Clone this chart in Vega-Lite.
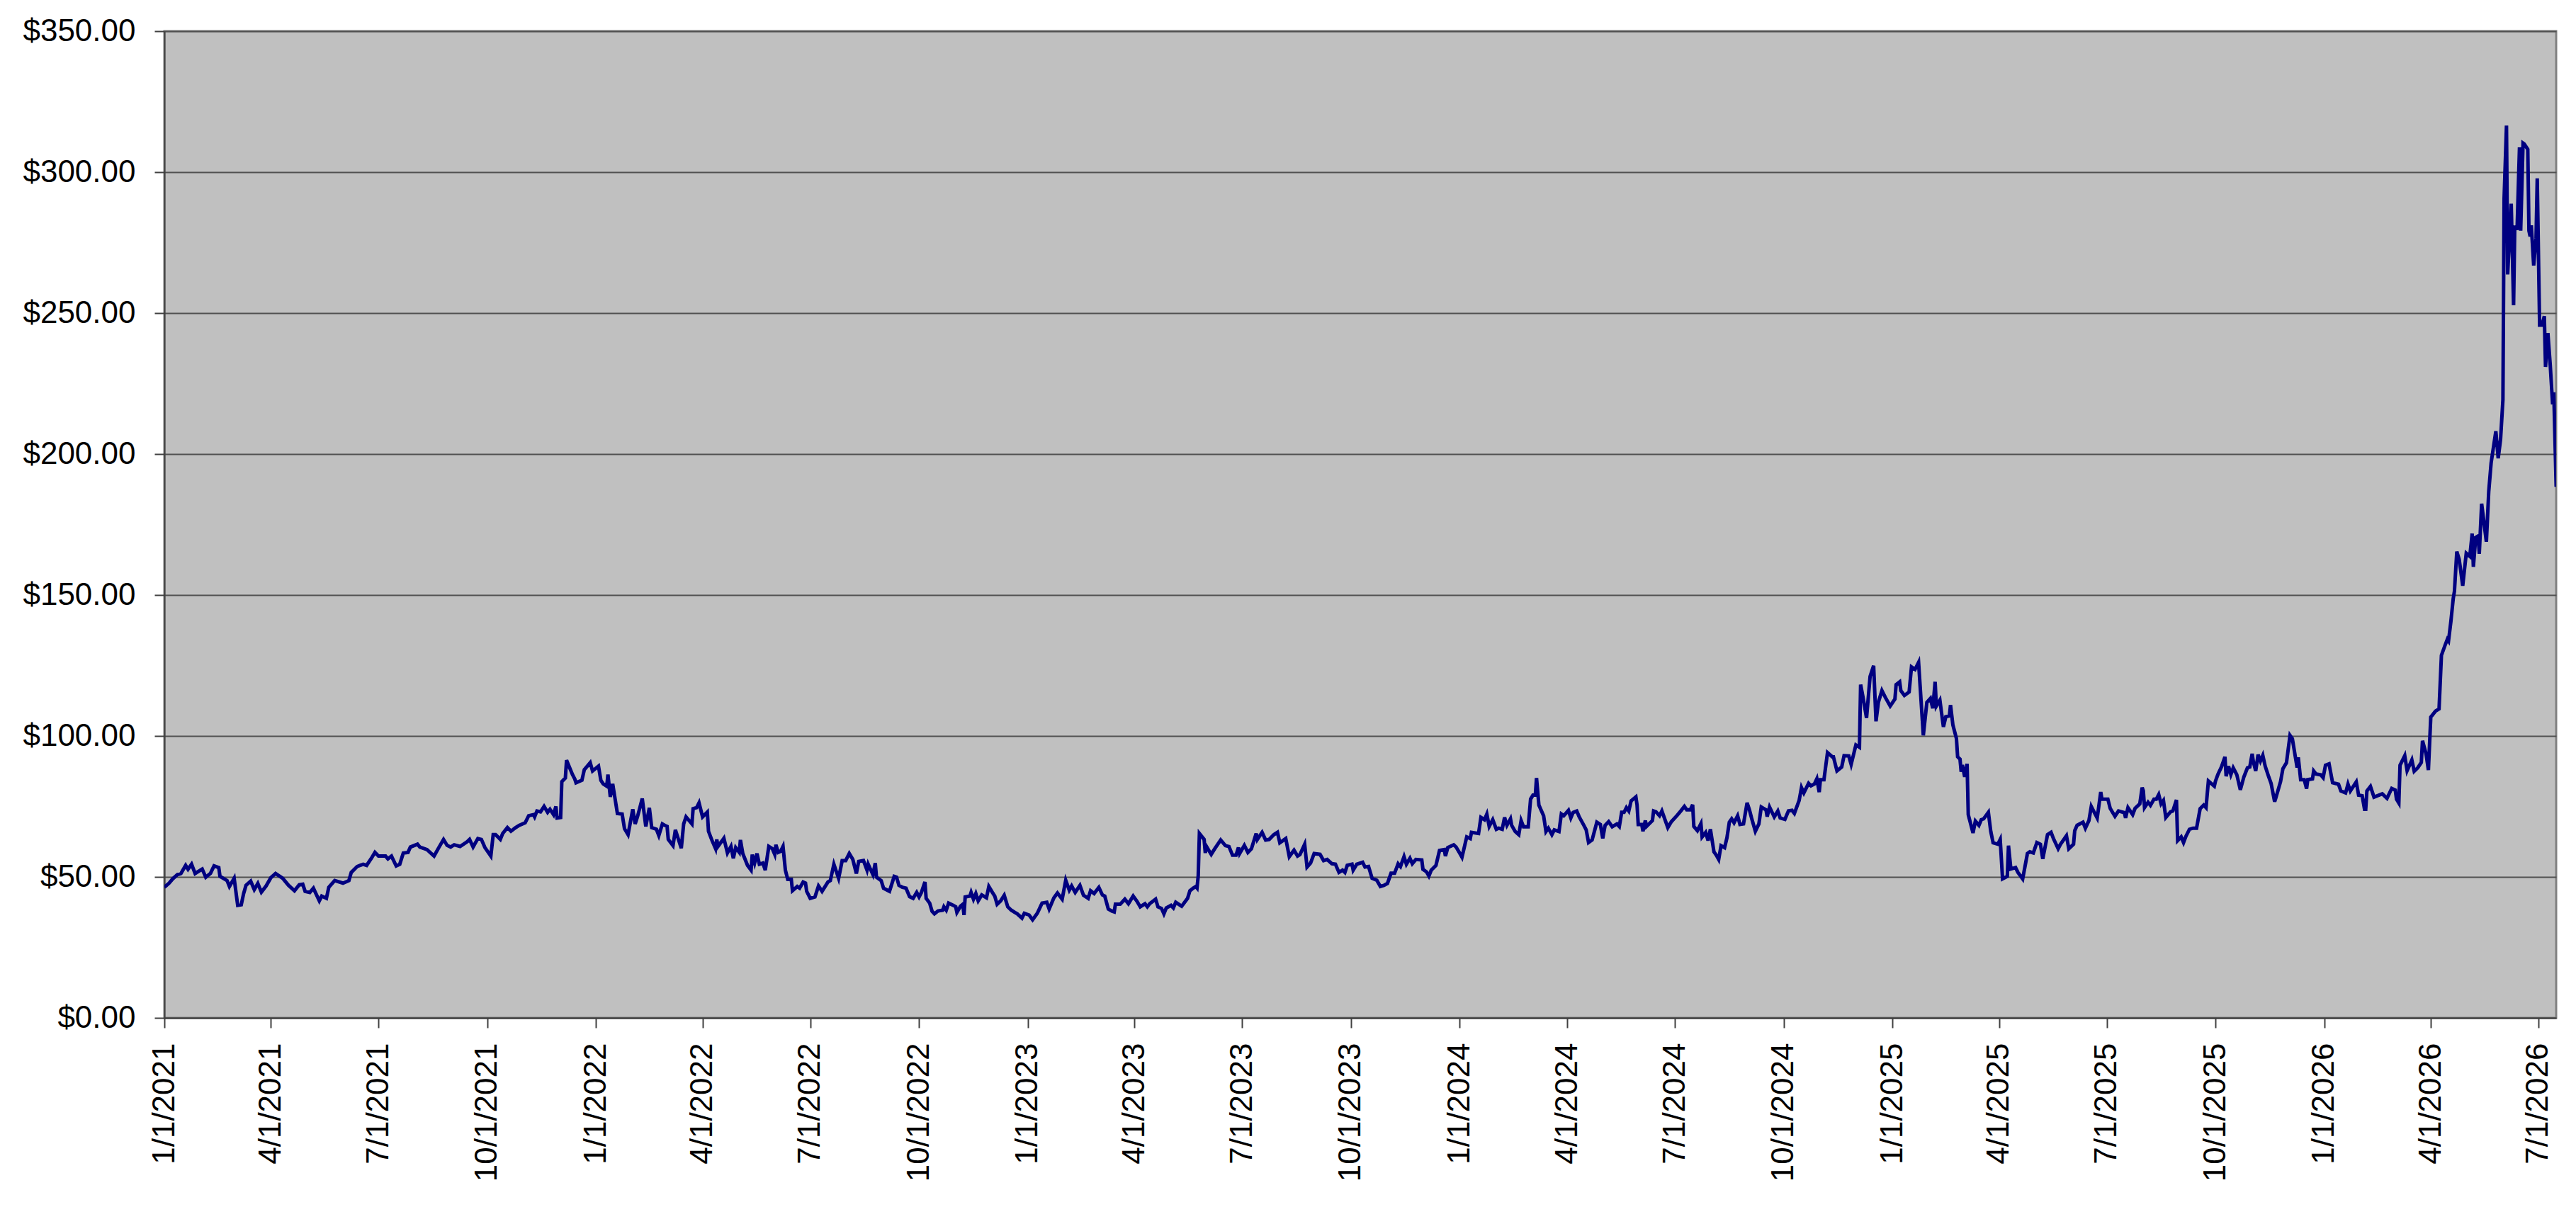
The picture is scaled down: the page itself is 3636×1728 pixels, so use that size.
{
  "$schema": "https://vega.github.io/schema/vega-lite/v6.json",
  "description": "Daily price line, 2021 to mid 2026",
  "width": 3376,
  "height": 1393,
  "autosize": {"type": "none"},
  "padding": {"left": 232, "top": 44, "right": 28, "bottom": 291},
  "background": "#ffffff",
  "data": {
    "values": [
      {"date": "2021-01-01", "price": 46.3}, {"date": "2021-01-05", "price": 47.8}, {"date": "2021-01-08", "price": 49.3}, {"date": "2021-01-12", "price": 50.8}, {"date": "2021-01-15", "price": 51.2}, {"date": "2021-01-19", "price": 54.1}, {"date": "2021-01-21", "price": 52.7}, {"date": "2021-01-24", "price": 54.5}, {"date": "2021-01-27", "price": 51.2}, {"date": "2021-02-02", "price": 52.8}, {"date": "2021-02-05", "price": 49.9}, {"date": "2021-02-09", "price": 51.3}, {"date": "2021-02-12", "price": 53.9}, {"date": "2021-02-16", "price": 53.3}, {"date": "2021-02-17", "price": 50.2}, {"date": "2021-02-23", "price": 48.7}, {"date": "2021-02-25", "price": 46.6}, {"date": "2021-03-01", "price": 49.5}, {"date": "2021-03-04", "price": 39.9}, {"date": "2021-03-07", "price": 40.1}, {"date": "2021-03-09", "price": 44.1}, {"date": "2021-03-11", "price": 47.0}, {"date": "2021-03-15", "price": 48.5}, {"date": "2021-03-18", "price": 45.5}, {"date": "2021-03-21", "price": 47.7}, {"date": "2021-03-24", "price": 44.6}, {"date": "2021-03-28", "price": 46.8}, {"date": "2021-04-01", "price": 49.7}, {"date": "2021-04-05", "price": 51.2}, {"date": "2021-04-11", "price": 49.5}, {"date": "2021-04-16", "price": 47.0}, {"date": "2021-04-21", "price": 45.1}, {"date": "2021-04-25", "price": 47.2}, {"date": "2021-04-28", "price": 47.4}, {"date": "2021-04-30", "price": 44.9}, {"date": "2021-05-04", "price": 44.5}, {"date": "2021-05-07", "price": 46.0}, {"date": "2021-05-12", "price": 41.5}, {"date": "2021-05-14", "price": 43.2}, {"date": "2021-05-18", "price": 42.4}, {"date": "2021-05-20", "price": 46.3}, {"date": "2021-05-25", "price": 48.7}, {"date": "2021-06-01", "price": 47.8}, {"date": "2021-06-06", "price": 48.7}, {"date": "2021-06-08", "price": 51.6}, {"date": "2021-06-13", "price": 53.7}, {"date": "2021-06-18", "price": 54.5}, {"date": "2021-06-21", "price": 54.1}, {"date": "2021-06-25", "price": 56.6}, {"date": "2021-06-28", "price": 58.7}, {"date": "2021-07-01", "price": 57.4}, {"date": "2021-07-07", "price": 57.4}, {"date": "2021-07-09", "price": 56.4}, {"date": "2021-07-12", "price": 57.4}, {"date": "2021-07-16", "price": 53.9}, {"date": "2021-07-19", "price": 54.5}, {"date": "2021-07-22", "price": 58.5}, {"date": "2021-07-26", "price": 58.7}, {"date": "2021-07-28", "price": 60.6}, {"date": "2021-08-03", "price": 61.6}, {"date": "2021-08-05", "price": 60.6}, {"date": "2021-08-11", "price": 59.7}, {"date": "2021-08-17", "price": 57.4}, {"date": "2021-08-21", "price": 60.4}, {"date": "2021-08-25", "price": 63.3}, {"date": "2021-08-28", "price": 61.2}, {"date": "2021-08-31", "price": 60.6}, {"date": "2021-09-03", "price": 61.4}, {"date": "2021-09-08", "price": 60.8}, {"date": "2021-09-14", "price": 62.5}, {"date": "2021-09-16", "price": 63.3}, {"date": "2021-09-19", "price": 60.6}, {"date": "2021-09-23", "price": 63.6}, {"date": "2021-09-26", "price": 63.3}, {"date": "2021-09-29", "price": 60.4}, {"date": "2021-10-04", "price": 57.4}, {"date": "2021-10-06", "price": 65.0}, {"date": "2021-10-08", "price": 65.0}, {"date": "2021-10-12", "price": 63.3}, {"date": "2021-10-14", "price": 65.4}, {"date": "2021-10-18", "price": 67.5}, {"date": "2021-10-21", "price": 66.2}, {"date": "2021-10-25", "price": 67.5}, {"date": "2021-10-28", "price": 68.3}, {"date": "2021-11-02", "price": 69.2}, {"date": "2021-11-05", "price": 71.7}, {"date": "2021-11-09", "price": 72.1}, {"date": "2021-11-10", "price": 71.3}, {"date": "2021-11-12", "price": 73.4}, {"date": "2021-11-15", "price": 73.1}, {"date": "2021-11-18", "price": 75.0}, {"date": "2021-11-21", "price": 72.9}, {"date": "2021-11-23", "price": 74.0}, {"date": "2021-11-26", "price": 72.1}, {"date": "2021-11-28", "price": 75.0}, {"date": "2021-11-29", "price": 70.9}, {"date": "2021-12-02", "price": 71.1}, {"date": "2021-12-03", "price": 83.8}, {"date": "2021-12-06", "price": 85.1}, {"date": "2021-12-07", "price": 91.4}, {"date": "2021-12-12", "price": 86.3}, {"date": "2021-12-14", "price": 84.7}, {"date": "2021-12-15", "price": 83.4}, {"date": "2021-12-20", "price": 84.3}, {"date": "2021-12-22", "price": 88.0}, {"date": "2021-12-27", "price": 90.5}, {"date": "2021-12-29", "price": 87.6},
      {"date": "2022-01-03", "price": 89.3}, {"date": "2022-01-05", "price": 84.3}, {"date": "2022-01-07", "price": 83.0}, {"date": "2022-01-10", "price": 82.2}, {"date": "2022-01-11", "price": 86.3}, {"date": "2022-01-13", "price": 78.4}, {"date": "2022-01-15", "price": 83.0}, {"date": "2022-01-19", "price": 72.5}, {"date": "2022-01-23", "price": 72.3}, {"date": "2022-01-25", "price": 67.1}, {"date": "2022-01-28", "price": 65.0}, {"date": "2022-02-01", "price": 74.0}, {"date": "2022-02-03", "price": 68.8}, {"date": "2022-02-05", "price": 71.4}, {"date": "2022-02-09", "price": 77.8}, {"date": "2022-02-12", "price": 67.9}, {"date": "2022-02-15", "price": 74.5}, {"date": "2022-02-17", "price": 67.5}, {"date": "2022-02-21", "price": 66.9}, {"date": "2022-02-23", "price": 64.7}, {"date": "2022-02-26", "price": 68.8}, {"date": "2022-02-28", "price": 68.3}, {"date": "2022-03-02", "price": 67.9}, {"date": "2022-03-03", "price": 63.3}, {"date": "2022-03-07", "price": 61.1}, {"date": "2022-03-09", "price": 66.7}, {"date": "2022-03-14", "price": 60.2}, {"date": "2022-03-16", "price": 68.8}, {"date": "2022-03-18", "price": 71.3}, {"date": "2022-03-23", "price": 68.8}, {"date": "2022-03-24", "price": 74.2}, {"date": "2022-03-27", "price": 74.6}, {"date": "2022-03-29", "price": 76.3}, {"date": "2022-04-01", "price": 71.3}, {"date": "2022-04-05", "price": 73.0}, {"date": "2022-04-06", "price": 66.2}, {"date": "2022-04-09", "price": 62.9}, {"date": "2022-04-12", "price": 60.0}, {"date": "2022-04-13", "price": 63.3}, {"date": "2022-04-14", "price": 60.8}, {"date": "2022-04-19", "price": 63.7}, {"date": "2022-04-22", "price": 58.5}, {"date": "2022-04-25", "price": 60.8}, {"date": "2022-04-27", "price": 56.6}, {"date": "2022-04-29", "price": 60.4}, {"date": "2022-05-02", "price": 58.7}, {"date": "2022-05-03", "price": 63.1}, {"date": "2022-05-05", "price": 58.3}, {"date": "2022-05-09", "price": 54.1}, {"date": "2022-05-12", "price": 52.4}, {"date": "2022-05-13", "price": 57.9}, {"date": "2022-05-15", "price": 54.9}, {"date": "2022-05-17", "price": 58.3}, {"date": "2022-05-19", "price": 54.5}, {"date": "2022-05-22", "price": 54.9}, {"date": "2022-05-24", "price": 52.4}, {"date": "2022-05-27", "price": 60.8}, {"date": "2022-05-30", "price": 60.0}, {"date": "2022-06-01", "price": 58.0}, {"date": "2022-06-02", "price": 61.4}, {"date": "2022-06-04", "price": 58.7}, {"date": "2022-06-06", "price": 59.1}, {"date": "2022-06-08", "price": 60.8}, {"date": "2022-06-10", "price": 52.4}, {"date": "2022-06-12", "price": 49.1}, {"date": "2022-06-15", "price": 49.1}, {"date": "2022-06-16", "price": 45.1}, {"date": "2022-06-20", "price": 46.6}, {"date": "2022-06-22", "price": 46.0}, {"date": "2022-06-25", "price": 48.2}, {"date": "2022-06-27", "price": 47.8}, {"date": "2022-06-28", "price": 44.9}, {"date": "2022-07-01", "price": 42.4}, {"date": "2022-07-05", "price": 42.9}, {"date": "2022-07-08", "price": 46.8}, {"date": "2022-07-11", "price": 44.9}, {"date": "2022-07-16", "price": 48.2}, {"date": "2022-07-18", "price": 48.7}, {"date": "2022-07-21", "price": 54.5}, {"date": "2022-07-23", "price": 52.0}, {"date": "2022-07-25", "price": 49.5}, {"date": "2022-07-28", "price": 55.8}, {"date": "2022-07-31", "price": 55.8}, {"date": "2022-08-03", "price": 58.3}, {"date": "2022-08-06", "price": 56.2}, {"date": "2022-08-09", "price": 51.2}, {"date": "2022-08-11", "price": 55.5}, {"date": "2022-08-15", "price": 55.8}, {"date": "2022-08-18", "price": 52.4}, {"date": "2022-08-19", "price": 54.5}, {"date": "2022-08-23", "price": 50.8}, {"date": "2022-08-25", "price": 54.9}, {"date": "2022-08-26", "price": 49.9}, {"date": "2022-08-30", "price": 48.7}, {"date": "2022-09-01", "price": 46.0}, {"date": "2022-09-06", "price": 44.9}, {"date": "2022-09-10", "price": 50.2}, {"date": "2022-09-12", "price": 49.9}, {"date": "2022-09-14", "price": 47.0}, {"date": "2022-09-17", "price": 46.3}, {"date": "2022-09-20", "price": 46.0}, {"date": "2022-09-23", "price": 43.0}, {"date": "2022-09-26", "price": 42.4}, {"date": "2022-09-29", "price": 44.5}, {"date": "2022-10-01", "price": 42.9}, {"date": "2022-10-03", "price": 44.5}, {"date": "2022-10-06", "price": 48.2}, {"date": "2022-10-07", "price": 42.4}, {"date": "2022-10-10", "price": 40.7}, {"date": "2022-10-12", "price": 37.8}, {"date": "2022-10-14", "price": 36.9}, {"date": "2022-10-17", "price": 37.9}, {"date": "2022-10-21", "price": 38.2}, {"date": "2022-10-22", "price": 39.4}, {"date": "2022-10-24", "price": 38.2}, {"date": "2022-10-26", "price": 40.7}, {"date": "2022-10-30", "price": 39.9}, {"date": "2022-11-01", "price": 39.4}, {"date": "2022-11-02", "price": 37.4}, {"date": "2022-11-05", "price": 39.6}, {"date": "2022-11-07", "price": 40.3}, {"date": "2022-11-08", "price": 36.5}, {"date": "2022-11-09", "price": 42.9}, {"date": "2022-11-13", "price": 43.2}, {"date": "2022-11-14", "price": 44.5}, {"date": "2022-11-16", "price": 42.1}, {"date": "2022-11-18", "price": 44.1}, {"date": "2022-11-20", "price": 41.5}, {"date": "2022-11-23", "price": 43.6}, {"date": "2022-11-27", "price": 42.6}, {"date": "2022-11-29", "price": 46.6}, {"date": "2022-12-02", "price": 44.5}, {"date": "2022-12-04", "price": 43.2}, {"date": "2022-12-06", "price": 40.3}, {"date": "2022-12-09", "price": 41.5}, {"date": "2022-12-12", "price": 43.5}, {"date": "2022-12-15", "price": 39.4}, {"date": "2022-12-18", "price": 38.2}, {"date": "2022-12-21", "price": 37.4}, {"date": "2022-12-23", "price": 36.9}, {"date": "2022-12-27", "price": 35.4}, {"date": "2022-12-29", "price": 37.1},
      {"date": "2023-01-02", "price": 36.5}, {"date": "2023-01-05", "price": 34.8}, {"date": "2023-01-09", "price": 37.1}, {"date": "2023-01-13", "price": 40.7}, {"date": "2023-01-17", "price": 41.0}, {"date": "2023-01-19", "price": 38.6}, {"date": "2023-01-23", "price": 42.6}, {"date": "2023-01-26", "price": 44.3}, {"date": "2023-01-30", "price": 42.1}, {"date": "2023-02-02", "price": 48.8}, {"date": "2023-02-05", "price": 45.3}, {"date": "2023-02-07", "price": 46.8}, {"date": "2023-02-10", "price": 44.5}, {"date": "2023-02-14", "price": 47.0}, {"date": "2023-02-17", "price": 43.5}, {"date": "2023-02-21", "price": 42.4}, {"date": "2023-02-23", "price": 45.1}, {"date": "2023-02-26", "price": 44.1}, {"date": "2023-03-02", "price": 46.3}, {"date": "2023-03-05", "price": 43.6}, {"date": "2023-03-07", "price": 43.2}, {"date": "2023-03-10", "price": 38.6}, {"date": "2023-03-13", "price": 37.9}, {"date": "2023-03-15", "price": 37.6}, {"date": "2023-03-16", "price": 40.3}, {"date": "2023-03-20", "price": 40.3}, {"date": "2023-03-24", "price": 42.1}, {"date": "2023-03-27", "price": 40.5}, {"date": "2023-03-31", "price": 43.2}, {"date": "2023-04-03", "price": 41.5}, {"date": "2023-04-06", "price": 39.4}, {"date": "2023-04-10", "price": 40.5}, {"date": "2023-04-12", "price": 39.4}, {"date": "2023-04-14", "price": 40.5}, {"date": "2023-04-19", "price": 42.1}, {"date": "2023-04-21", "price": 39.4}, {"date": "2023-04-24", "price": 38.8}, {"date": "2023-04-26", "price": 36.9}, {"date": "2023-04-28", "price": 39.0}, {"date": "2023-05-02", "price": 39.9}, {"date": "2023-05-04", "price": 39.0}, {"date": "2023-05-06", "price": 41.0}, {"date": "2023-05-11", "price": 39.6}, {"date": "2023-05-16", "price": 42.4}, {"date": "2023-05-18", "price": 45.1}, {"date": "2023-05-21", "price": 46.1}, {"date": "2023-05-23", "price": 46.6}, {"date": "2023-05-24", "price": 46.1}, {"date": "2023-05-25", "price": 50.3}, {"date": "2023-05-26", "price": 65.4}, {"date": "2023-05-30", "price": 63.3}, {"date": "2023-05-31", "price": 58.5}, {"date": "2023-06-01", "price": 60.8}, {"date": "2023-06-05", "price": 58.0}, {"date": "2023-06-08", "price": 60.0}, {"date": "2023-06-13", "price": 63.1}, {"date": "2023-06-17", "price": 61.1}, {"date": "2023-06-20", "price": 60.8}, {"date": "2023-06-23", "price": 57.7}, {"date": "2023-06-26", "price": 57.7}, {"date": "2023-06-28", "price": 60.4}, {"date": "2023-06-29", "price": 58.3}, {"date": "2023-07-03", "price": 61.2}, {"date": "2023-07-06", "price": 58.7}, {"date": "2023-07-09", "price": 60.0}, {"date": "2023-07-13", "price": 65.4}, {"date": "2023-07-14", "price": 63.3}, {"date": "2023-07-18", "price": 65.8}, {"date": "2023-07-21", "price": 63.1}, {"date": "2023-07-24", "price": 63.3}, {"date": "2023-07-28", "price": 65.0}, {"date": "2023-07-31", "price": 65.8}, {"date": "2023-08-02", "price": 62.1}, {"date": "2023-08-07", "price": 63.6}, {"date": "2023-08-10", "price": 57.2}, {"date": "2023-08-14", "price": 59.5}, {"date": "2023-08-17", "price": 57.4}, {"date": "2023-08-19", "price": 57.9}, {"date": "2023-08-23", "price": 61.6}, {"date": "2023-08-25", "price": 53.5}, {"date": "2023-08-28", "price": 54.9}, {"date": "2023-08-31", "price": 58.3}, {"date": "2023-09-05", "price": 58.0}, {"date": "2023-09-08", "price": 55.8}, {"date": "2023-09-11", "price": 56.2}, {"date": "2023-09-15", "price": 54.7}, {"date": "2023-09-18", "price": 54.5}, {"date": "2023-09-21", "price": 51.6}, {"date": "2023-09-24", "price": 52.4}, {"date": "2023-09-26", "price": 51.6}, {"date": "2023-09-28", "price": 54.1}, {"date": "2023-10-02", "price": 54.5}, {"date": "2023-10-03", "price": 52.4}, {"date": "2023-10-06", "price": 54.5}, {"date": "2023-10-11", "price": 55.2}, {"date": "2023-10-13", "price": 53.5}, {"date": "2023-10-16", "price": 53.7}, {"date": "2023-10-19", "price": 49.5}, {"date": "2023-10-23", "price": 48.8}, {"date": "2023-10-26", "price": 46.6}, {"date": "2023-10-29", "price": 47.0}, {"date": "2023-11-01", "price": 47.7}, {"date": "2023-11-04", "price": 51.3}, {"date": "2023-11-07", "price": 51.3}, {"date": "2023-11-10", "price": 54.7}, {"date": "2023-11-12", "price": 53.7}, {"date": "2023-11-15", "price": 57.2}, {"date": "2023-11-17", "price": 54.5}, {"date": "2023-11-20", "price": 56.6}, {"date": "2023-11-22", "price": 54.7}, {"date": "2023-11-25", "price": 56.2}, {"date": "2023-11-30", "price": 56.0}, {"date": "2023-12-01", "price": 52.7}, {"date": "2023-12-04", "price": 51.8}, {"date": "2023-12-06", "price": 50.3}, {"date": "2023-12-08", "price": 52.4}, {"date": "2023-12-12", "price": 54.1}, {"date": "2023-12-15", "price": 59.4}, {"date": "2023-12-19", "price": 59.7}, {"date": "2023-12-20", "price": 57.4}, {"date": "2023-12-22", "price": 60.4}, {"date": "2023-12-27", "price": 61.4}, {"date": "2023-12-29", "price": 60.6},
      {"date": "2024-01-01", "price": 58.5}, {"date": "2024-01-03", "price": 57.0}, {"date": "2024-01-07", "price": 64.2}, {"date": "2024-01-10", "price": 63.6}, {"date": "2024-01-11", "price": 65.8}, {"date": "2024-01-17", "price": 65.4}, {"date": "2024-01-19", "price": 71.1}, {"date": "2024-01-22", "price": 70.3}, {"date": "2024-01-24", "price": 72.3}, {"date": "2024-01-26", "price": 67.9}, {"date": "2024-01-29", "price": 70.3}, {"date": "2024-02-01", "price": 66.9}, {"date": "2024-02-03", "price": 67.3}, {"date": "2024-02-06", "price": 66.9}, {"date": "2024-02-08", "price": 71.1}, {"date": "2024-02-10", "price": 68.3}, {"date": "2024-02-13", "price": 70.6}, {"date": "2024-02-14", "price": 68.3}, {"date": "2024-02-17", "price": 66.1}, {"date": "2024-02-20", "price": 65.0}, {"date": "2024-02-22", "price": 70.0}, {"date": "2024-02-24", "price": 67.8}, {"date": "2024-02-28", "price": 67.8}, {"date": "2024-03-01", "price": 77.6}, {"date": "2024-03-03", "price": 79.0}, {"date": "2024-03-05", "price": 79.0}, {"date": "2024-03-06", "price": 85.1}, {"date": "2024-03-08", "price": 75.5}, {"date": "2024-03-12", "price": 71.7}, {"date": "2024-03-14", "price": 66.1}, {"date": "2024-03-16", "price": 67.3}, {"date": "2024-03-19", "price": 65.0}, {"date": "2024-03-21", "price": 66.7}, {"date": "2024-03-25", "price": 66.1}, {"date": "2024-03-27", "price": 72.3}, {"date": "2024-03-29", "price": 71.7}, {"date": "2024-04-02", "price": 73.6}, {"date": "2024-04-04", "price": 70.9}, {"date": "2024-04-06", "price": 72.9}, {"date": "2024-04-09", "price": 73.4}, {"date": "2024-04-11", "price": 71.4}, {"date": "2024-04-15", "price": 68.3}, {"date": "2024-04-17", "price": 66.7}, {"date": "2024-04-19", "price": 62.2}, {"date": "2024-04-22", "price": 63.1}, {"date": "2024-04-26", "price": 69.4}, {"date": "2024-04-29", "price": 68.6}, {"date": "2024-05-01", "price": 63.7}, {"date": "2024-05-03", "price": 68.3}, {"date": "2024-05-06", "price": 69.6}, {"date": "2024-05-09", "price": 67.8}, {"date": "2024-05-13", "price": 68.8}, {"date": "2024-05-15", "price": 67.9}, {"date": "2024-05-17", "price": 72.9}, {"date": "2024-05-19", "price": 72.9}, {"date": "2024-05-21", "price": 74.6}, {"date": "2024-05-23", "price": 73.4}, {"date": "2024-05-25", "price": 77.0}, {"date": "2024-05-29", "price": 78.4}, {"date": "2024-05-30", "price": 75.5}, {"date": "2024-05-31", "price": 68.6}, {"date": "2024-06-03", "price": 68.6}, {"date": "2024-06-04", "price": 66.2}, {"date": "2024-06-06", "price": 70.0}, {"date": "2024-06-07", "price": 67.9}, {"date": "2024-06-12", "price": 70.0}, {"date": "2024-06-13", "price": 73.4}, {"date": "2024-06-15", "price": 73.1}, {"date": "2024-06-18", "price": 71.7}, {"date": "2024-06-20", "price": 73.4}, {"date": "2024-06-25", "price": 67.5}, {"date": "2024-06-28", "price": 69.6}, {"date": "2024-07-03", "price": 71.9}, {"date": "2024-07-06", "price": 73.4}, {"date": "2024-07-09", "price": 75.0}, {"date": "2024-07-11", "price": 73.8}, {"date": "2024-07-14", "price": 73.8}, {"date": "2024-07-16", "price": 75.6}, {"date": "2024-07-17", "price": 67.9}, {"date": "2024-07-20", "price": 66.4}, {"date": "2024-07-23", "price": 68.9}, {"date": "2024-07-24", "price": 64.2}, {"date": "2024-07-27", "price": 65.8}, {"date": "2024-07-29", "price": 62.9}, {"date": "2024-07-31", "price": 66.9}, {"date": "2024-08-03", "price": 58.9}, {"date": "2024-08-05", "price": 57.7}, {"date": "2024-08-07", "price": 56.2}, {"date": "2024-08-09", "price": 61.1}, {"date": "2024-08-12", "price": 60.4}, {"date": "2024-08-14", "price": 63.9}, {"date": "2024-08-16", "price": 69.4}, {"date": "2024-08-18", "price": 70.6}, {"date": "2024-08-20", "price": 69.2}, {"date": "2024-08-23", "price": 71.7}, {"date": "2024-08-25", "price": 68.6}, {"date": "2024-08-28", "price": 68.8}, {"date": "2024-08-31", "price": 76.3}, {"date": "2024-09-02", "price": 73.8}, {"date": "2024-09-04", "price": 70.6}, {"date": "2024-09-07", "price": 66.2}, {"date": "2024-09-10", "price": 68.8}, {"date": "2024-09-12", "price": 74.8}, {"date": "2024-09-16", "price": 73.8}, {"date": "2024-09-17", "price": 71.4}, {"date": "2024-09-19", "price": 74.8}, {"date": "2024-09-23", "price": 71.3}, {"date": "2024-09-26", "price": 73.4}, {"date": "2024-09-28", "price": 70.9}, {"date": "2024-10-02", "price": 70.4}, {"date": "2024-10-05", "price": 73.4}, {"date": "2024-10-08", "price": 73.6}, {"date": "2024-10-10", "price": 72.5}, {"date": "2024-10-14", "price": 77.1}, {"date": "2024-10-16", "price": 81.7}, {"date": "2024-10-18", "price": 79.8}, {"date": "2024-10-22", "price": 83.2}, {"date": "2024-10-24", "price": 82.3}, {"date": "2024-10-27", "price": 83.0}, {"date": "2024-10-29", "price": 84.8}, {"date": "2024-10-31", "price": 80.1}, {"date": "2024-11-01", "price": 84.5}, {"date": "2024-11-04", "price": 84.5}, {"date": "2024-11-07", "price": 94.1}, {"date": "2024-11-11", "price": 92.6}, {"date": "2024-11-12", "price": 92.6}, {"date": "2024-11-15", "price": 87.6}, {"date": "2024-11-19", "price": 89.0}, {"date": "2024-11-21", "price": 93.0}, {"date": "2024-11-25", "price": 92.9}, {"date": "2024-11-27", "price": 89.9}, {"date": "2024-12-01", "price": 96.8}, {"date": "2024-12-04", "price": 96.0}, {"date": "2024-12-05", "price": 118.2}, {"date": "2024-12-07", "price": 113.8}, {"date": "2024-12-10", "price": 106.4}, {"date": "2024-12-11", "price": 111.3}, {"date": "2024-12-13", "price": 121.1}, {"date": "2024-12-16", "price": 124.9}, {"date": "2024-12-18", "price": 105.2}, {"date": "2024-12-20", "price": 111.9}, {"date": "2024-12-23", "price": 116.1}, {"date": "2024-12-26", "price": 113.6}, {"date": "2024-12-30", "price": 110.6},
      {"date": "2025-01-03", "price": 113.1}, {"date": "2025-01-04", "price": 118.2}, {"date": "2025-01-07", "price": 119.2}, {"date": "2025-01-08", "price": 116.1}, {"date": "2025-01-11", "price": 114.4}, {"date": "2025-01-15", "price": 115.6}, {"date": "2025-01-17", "price": 124.5}, {"date": "2025-01-20", "price": 123.6}, {"date": "2025-01-23", "price": 126.1}, {"date": "2025-01-27", "price": 100.2}, {"date": "2025-01-30", "price": 111.9}, {"date": "2025-02-02", "price": 113.3}, {"date": "2025-02-04", "price": 109.8}, {"date": "2025-02-06", "price": 119.2}, {"date": "2025-02-07", "price": 110.6}, {"date": "2025-02-10", "price": 112.7}, {"date": "2025-02-13", "price": 103.2}, {"date": "2025-02-15", "price": 106.8}, {"date": "2025-02-18", "price": 107.1}, {"date": "2025-02-19", "price": 111.0}, {"date": "2025-02-21", "price": 103.9}, {"date": "2025-02-24", "price": 99.1}, {"date": "2025-02-25", "price": 92.6}, {"date": "2025-02-27", "price": 91.8}, {"date": "2025-02-28", "price": 87.3}, {"date": "2025-03-01", "price": 89.7}, {"date": "2025-03-03", "price": 85.5}, {"date": "2025-03-05", "price": 90.1}, {"date": "2025-03-06", "price": 72.1}, {"date": "2025-03-10", "price": 65.6}, {"date": "2025-03-12", "price": 69.8}, {"date": "2025-03-15", "price": 68.3}, {"date": "2025-03-17", "price": 70.3}, {"date": "2025-03-19", "price": 70.6}, {"date": "2025-03-23", "price": 72.9}, {"date": "2025-03-25", "price": 66.2}, {"date": "2025-03-27", "price": 62.1}, {"date": "2025-03-31", "price": 61.6}, {"date": "2025-04-02", "price": 63.3}, {"date": "2025-04-04", "price": 49.3}, {"date": "2025-04-08", "price": 50.2}, {"date": "2025-04-09", "price": 61.1}, {"date": "2025-04-11", "price": 52.8}, {"date": "2025-04-15", "price": 53.3}, {"date": "2025-04-17", "price": 51.6}, {"date": "2025-04-21", "price": 49.3}, {"date": "2025-04-25", "price": 58.3}, {"date": "2025-04-27", "price": 58.9}, {"date": "2025-04-30", "price": 58.5}, {"date": "2025-05-03", "price": 62.2}, {"date": "2025-05-06", "price": 61.6}, {"date": "2025-05-08", "price": 56.4}, {"date": "2025-05-12", "price": 65.0}, {"date": "2025-05-15", "price": 65.8}, {"date": "2025-05-17", "price": 63.6}, {"date": "2025-05-21", "price": 60.0}, {"date": "2025-05-23", "price": 61.6}, {"date": "2025-05-28", "price": 64.6}, {"date": "2025-05-30", "price": 60.0}, {"date": "2025-06-03", "price": 61.6}, {"date": "2025-06-04", "price": 66.4}, {"date": "2025-06-06", "price": 68.3}, {"date": "2025-06-11", "price": 69.4}, {"date": "2025-06-13", "price": 67.3}, {"date": "2025-06-16", "price": 70.0}, {"date": "2025-06-18", "price": 75.0}, {"date": "2025-06-23", "price": 70.9}, {"date": "2025-06-26", "price": 80.1}, {"date": "2025-06-27", "price": 77.6}, {"date": "2025-07-02", "price": 77.6}, {"date": "2025-07-04", "price": 74.3}, {"date": "2025-07-08", "price": 71.5}, {"date": "2025-07-11", "price": 73.4}, {"date": "2025-07-16", "price": 72.8}, {"date": "2025-07-17", "price": 70.9}, {"date": "2025-07-19", "price": 74.6}, {"date": "2025-07-23", "price": 72.1}, {"date": "2025-07-25", "price": 74.3}, {"date": "2025-07-29", "price": 75.9}, {"date": "2025-07-31", "price": 81.7}, {"date": "2025-08-01", "price": 80.5}, {"date": "2025-08-02", "price": 74.6}, {"date": "2025-08-05", "price": 76.5}, {"date": "2025-08-07", "price": 75.4}, {"date": "2025-08-10", "price": 77.6}, {"date": "2025-08-12", "price": 77.6}, {"date": "2025-08-14", "price": 79.2}, {"date": "2025-08-16", "price": 75.9}, {"date": "2025-08-18", "price": 77.1}, {"date": "2025-08-20", "price": 71.1}, {"date": "2025-08-24", "price": 73.1}, {"date": "2025-08-26", "price": 73.4}, {"date": "2025-08-29", "price": 77.3}, {"date": "2025-08-30", "price": 62.9}, {"date": "2025-09-02", "price": 64.2}, {"date": "2025-09-04", "price": 62.2}, {"date": "2025-09-06", "price": 64.4}, {"date": "2025-09-09", "price": 66.9}, {"date": "2025-09-12", "price": 67.3}, {"date": "2025-09-15", "price": 67.3}, {"date": "2025-09-18", "price": 74.2}, {"date": "2025-09-21", "price": 75.5}, {"date": "2025-09-23", "price": 74.6}, {"date": "2025-09-25", "price": 84.0}, {"date": "2025-09-30", "price": 82.2}, {"date": "2025-10-01", "price": 84.0}, {"date": "2025-10-03", "price": 86.3}, {"date": "2025-10-06", "price": 89.0}, {"date": "2025-10-09", "price": 92.6}, {"date": "2025-10-10", "price": 85.7}, {"date": "2025-10-12", "price": 89.3}, {"date": "2025-10-14", "price": 86.3}, {"date": "2025-10-16", "price": 88.7}, {"date": "2025-10-19", "price": 86.3}, {"date": "2025-10-22", "price": 80.9}, {"date": "2025-10-25", "price": 85.5}, {"date": "2025-10-28", "price": 88.7}, {"date": "2025-10-30", "price": 89.0}, {"date": "2025-11-01", "price": 93.7}, {"date": "2025-11-02", "price": 90.9}, {"date": "2025-11-04", "price": 87.6}, {"date": "2025-11-06", "price": 93.4}, {"date": "2025-11-08", "price": 91.1}, {"date": "2025-11-10", "price": 93.1}, {"date": "2025-11-12", "price": 89.3}, {"date": "2025-11-15", "price": 85.5}, {"date": "2025-11-17", "price": 83.2}, {"date": "2025-11-20", "price": 76.7}, {"date": "2025-11-21", "price": 78.0}, {"date": "2025-11-25", "price": 83.8}, {"date": "2025-11-27", "price": 88.4}, {"date": "2025-11-30", "price": 90.5}, {"date": "2025-12-03", "price": 100.2}, {"date": "2025-12-05", "price": 99.0}, {"date": "2025-12-09", "price": 88.8}, {"date": "2025-12-10", "price": 92.4}, {"date": "2025-12-12", "price": 84.5}, {"date": "2025-12-15", "price": 84.5}, {"date": "2025-12-17", "price": 81.3}, {"date": "2025-12-18", "price": 84.5}, {"date": "2025-12-22", "price": 84.8}, {"date": "2025-12-23", "price": 87.6}, {"date": "2025-12-25", "price": 86.5}, {"date": "2025-12-29", "price": 86.2}, {"date": "2025-12-31", "price": 85.2},
      {"date": "2026-01-02", "price": 89.6}, {"date": "2026-01-05", "price": 90.1}, {"date": "2026-01-08", "price": 83.4}, {"date": "2026-01-11", "price": 83.1}, {"date": "2026-01-13", "price": 82.9}, {"date": "2026-01-15", "price": 80.5}, {"date": "2026-01-19", "price": 79.8}, {"date": "2026-01-21", "price": 82.9}, {"date": "2026-01-23", "price": 80.5}, {"date": "2026-01-28", "price": 83.7}, {"date": "2026-01-30", "price": 79.0}, {"date": "2026-02-02", "price": 78.8}, {"date": "2026-02-04", "price": 74.0}, {"date": "2026-02-05", "price": 74.0}, {"date": "2026-02-06", "price": 80.5}, {"date": "2026-02-09", "price": 82.1}, {"date": "2026-02-12", "price": 78.3}, {"date": "2026-02-19", "price": 79.5}, {"date": "2026-02-23", "price": 77.9}, {"date": "2026-02-27", "price": 81.4}, {"date": "2026-03-02", "price": 80.8}, {"date": "2026-03-03", "price": 77.6}, {"date": "2026-03-05", "price": 76.2}, {"date": "2026-03-06", "price": 89.6}, {"date": "2026-03-10", "price": 93.0}, {"date": "2026-03-12", "price": 87.7}, {"date": "2026-03-16", "price": 91.5}, {"date": "2026-03-18", "price": 87.5}, {"date": "2026-03-21", "price": 88.7}, {"date": "2026-03-24", "price": 90.6}, {"date": "2026-03-25", "price": 98.3}, {"date": "2026-03-28", "price": 93.7}, {"date": "2026-03-30", "price": 87.9}, {"date": "2026-04-01", "price": 106.7}, {"date": "2026-04-05", "price": 108.8}, {"date": "2026-04-08", "price": 109.6}, {"date": "2026-04-10", "price": 128.6}, {"date": "2026-04-13", "price": 132.1}, {"date": "2026-04-15", "price": 134.3}, {"date": "2026-04-16", "price": 133.7}, {"date": "2026-04-18", "price": 140.6}, {"date": "2026-04-20", "price": 148.8}, {"date": "2026-04-21", "price": 151.3}, {"date": "2026-04-23", "price": 165.4}, {"date": "2026-04-25", "price": 162.7}, {"date": "2026-04-28", "price": 153.3}, {"date": "2026-05-01", "price": 164.8}, {"date": "2026-05-04", "price": 163.7}, {"date": "2026-05-06", "price": 171.8}, {"date": "2026-05-07", "price": 160.0}, {"date": "2026-05-09", "price": 170.4}, {"date": "2026-05-11", "price": 170.9}, {"date": "2026-05-12", "price": 164.6}, {"date": "2026-05-14", "price": 182.4}, {"date": "2026-05-18", "price": 168.9}, {"date": "2026-05-20", "price": 186.7}, {"date": "2026-05-22", "price": 196.8}, {"date": "2026-05-26", "price": 208.1}, {"date": "2026-05-28", "price": 198.5}, {"date": "2026-05-30", "price": 205.2}, {"date": "2026-06-01", "price": 219.3}, {"date": "2026-06-02", "price": 290.7}, {"date": "2026-06-04", "price": 316.5}, {"date": "2026-06-05", "price": 263.7}, {"date": "2026-06-07", "price": 281.1}, {"date": "2026-06-08", "price": 288.8}, {"date": "2026-06-10", "price": 252.8}, {"date": "2026-06-11", "price": 280.4}, {"date": "2026-06-13", "price": 280.2}, {"date": "2026-06-15", "price": 308.8}, {"date": "2026-06-16", "price": 279.2}, {"date": "2026-06-18", "price": 310.3}, {"date": "2026-06-19", "price": 310.0}, {"date": "2026-06-22", "price": 308.1}, {"date": "2026-06-23", "price": 279.2}, {"date": "2026-06-24", "price": 277.2}, {"date": "2026-06-25", "price": 281.1}, {"date": "2026-06-27", "price": 266.9}, {"date": "2026-06-29", "price": 276.6}, {"date": "2026-06-30", "price": 297.8}, {"date": "2026-07-02", "price": 245.7}, {"date": "2026-07-04", "price": 245.7}, {"date": "2026-07-06", "price": 248.9}, {"date": "2026-07-07", "price": 230.9}, {"date": "2026-07-09", "price": 242.9}, {"date": "2026-07-11", "price": 231.5}, {"date": "2026-07-13", "price": 217.6}, {"date": "2026-07-14", "price": 221.9}, {"date": "2026-07-16", "price": 188.4}
    ]
  },
  "mark": {"type": "line", "color": "#000080", "strokeWidth": 5, "strokeJoin": "miter", "clip": true},
  "encoding": {
    "x": {
      "field": "date",
      "type": "temporal",
      "scale": {
        "type": "utc",
        "domain": [
          {"year": 2021, "month": 1, "date": 1, "utc": true},
          {"year": 2026, "month": 7, "date": 16, "utc": true}
        ]
      },
      "axis": {
        "title": null,
        "grid": false,
        "format": "%-m/%-d/%Y",
        "labelAngle": -90,
        "labelPadding": 21,
        "values": [
          {"year": 2021, "month": 1, "date": 1, "utc": true},
          {"year": 2021, "month": 4, "date": 1, "utc": true},
          {"year": 2021, "month": 7, "date": 1, "utc": true},
          {"year": 2021, "month": 10, "date": 1, "utc": true},
          {"year": 2022, "month": 1, "date": 1, "utc": true},
          {"year": 2022, "month": 4, "date": 1, "utc": true},
          {"year": 2022, "month": 7, "date": 1, "utc": true},
          {"year": 2022, "month": 10, "date": 1, "utc": true},
          {"year": 2023, "month": 1, "date": 1, "utc": true},
          {"year": 2023, "month": 4, "date": 1, "utc": true},
          {"year": 2023, "month": 7, "date": 1, "utc": true},
          {"year": 2023, "month": 10, "date": 1, "utc": true},
          {"year": 2024, "month": 1, "date": 1, "utc": true},
          {"year": 2024, "month": 4, "date": 1, "utc": true},
          {"year": 2024, "month": 7, "date": 1, "utc": true},
          {"year": 2024, "month": 10, "date": 1, "utc": true},
          {"year": 2025, "month": 1, "date": 1, "utc": true},
          {"year": 2025, "month": 4, "date": 1, "utc": true},
          {"year": 2025, "month": 7, "date": 1, "utc": true},
          {"year": 2025, "month": 10, "date": 1, "utc": true},
          {"year": 2026, "month": 1, "date": 1, "utc": true},
          {"year": 2026, "month": 4, "date": 1, "utc": true},
          {"year": 2026, "month": 7, "date": 1, "utc": true}
        ]
      }
    },
    "y": {
      "field": "price",
      "type": "quantitative",
      "scale": {"domain": [0, 350], "nice": false},
      "axis": {
        "title": null,
        "values": [0, 50, 100, 150, 200, 250, 300, 350],
        "format": "$.2f",
        "grid": true,
        "gridColor": "#505050",
        "gridWidth": 2,
        "labelPadding": 27
      }
    }
  },
  "config": {
    "view": {"fill": "#C0C0C0", "stroke": "#808080", "strokeWidth": 3},
    "axis": {
      "labelFont": "Liberation Sans",
      "labelFontSize": 44,
      "labelColor": "#000000",
      "labelLimit": 0,
      "domainColor": "#404040",
      "domainWidth": 2,
      "tickColor": "#404040",
      "tickWidth": 2,
      "tickSize": 14,
      "labelOverlap": false,
      "labelFlush": false
    }
  }
}
